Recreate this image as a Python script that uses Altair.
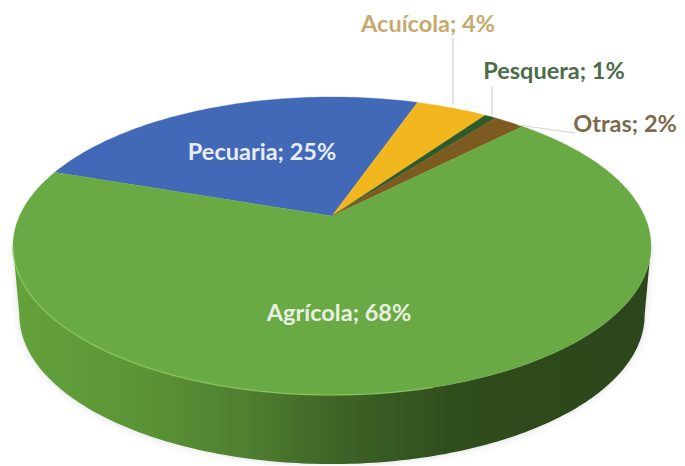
import math
import altair as alt

# Data
categories = ["Agrícola", "Pecuaria", "Acuícola", "Pesquera", "Otras"]
shares = [68, 25, 4.4, 0.7, 1.9]
colors = ["#6aaa45", "#4269b7", "#f2b61e", "#2f5a2a", "#7c5a20"]
labels = ["Agrícola; 68%", "Pecuaria; 25%", "Acuícola; 4%", "Pesquera; 1%", "Otras; 2%"]
label_colors = ["#e9f0e2", "#e8edf6", "#c8a96c", "#4c6c4a", "#7d6a4e"]
label_x = [339, 262, 428, 554, 625]
label_y = [314, 153, 25, 72, 125]
leader_x0 = [453, 492, 575]
leader_y0 = [38, 87, 133]
leader_x1 = [453, 492, 518]
leader_y1 = [105, 116, 125]

# Perspective pie geometry (image pixels)
AX, AY = 332.0, 216.0
RX, RY, K = 312.5, 143.0, 0.2013
START = 161.0
DEPTH = 69.0


def rim(theta_deg, shrink=1.0, dy=0.0):
    t = math.radians(theta_deg)
    u, v = math.cos(t), math.sin(t)
    w = 1 + K * v
    return [AX + shrink * RX * u / w, AY - RY * v / w + dy]


def sector(a0, a1):
    n = max(2, int(abs(a1 - a0)))
    pts = [rim(a0 + (a1 - a0) * i / n) for i in range(n + 1)]
    return [[AX, AY]] + pts + [[AX, AY]]


def feature(coords, kind="Polygon", **props):
    geom = {"type": kind, "coordinates": [coords] if kind == "Polygon" else coords}
    return {"type": "Feature", "geometry": geom, "properties": props}


slices = []
a = START
for cat, s in zip(categories[1:], shares[1:]):
    b = a - s * 3.6
    slices.append(feature(sector(a, b), cat=cat))
    a = b
slices.append(feature(sector(a, START - 360), cat=categories[0]))

# Outer wall
left = 180 + math.degrees(math.asin(K))
right = 360 - math.degrees(math.asin(K))
angs = [left + (right - left) * i / 180 for i in range(181)]
wall_pts = [rim(t) for t in angs] + [rim(t, 0.98, DEPTH) for t in reversed(angs)]
wall_pts.append(wall_pts[0])
wall = [feature(wall_pts, cat="wall")]
edge_angs = [left + (285 - left) * i / 90 for i in range(91)]
edge = [feature([rim(t) for t in edge_angs], kind="LineString", cat="edge")]

leaders = [
    feature([[x0, y0], [x1, y1]], kind="LineString", cat="leader")
    for x0, y0, x1, y1 in zip(leader_x0, leader_y0, leader_x1, leader_y1)
]

proj = alt.Projection(type="identity", scale=1, translate=[-8, -8]).to_dict()


def geo(features):
    return alt.Chart(alt.InlineData(values=features))


shadow_layers = [
    geo(wall).mark_geoshape(fillOpacity=0, stroke="#8a8a8a", strokeOpacity=o, strokeWidth=w).project(**proj)
    for w, o in [(14, 0.025), (9, 0.03), (4, 0.06)]
]

wall_grad = alt.Gradient(
    gradient="linear", x1=0, x2=1, y1=0, y2=0,
    stops=[
        alt.GradientStop(offset=0.0, color="#64a23b"),
        alt.GradientStop(offset=0.2, color="#5b9436"),
        alt.GradientStop(offset=0.36, color="#507f30"),
        alt.GradientStop(offset=0.52, color="#3d6226"),
        alt.GradientStop(offset=0.7, color="#2f4c1c"),
        alt.GradientStop(offset=1.0, color="#2c461b"),
    ],
)
wall_layer = geo(wall).mark_geoshape(fill=wall_grad, stroke=None).project(**proj)

edge_layer = geo(edge).mark_geoshape(
    filled=False, stroke="#93cf63", strokeWidth=1.5, strokeOpacity=0.6
).project(**proj)

slice_layer = geo(slices).mark_geoshape(strokeWidth=0.3).encode(
    fill=alt.Fill("properties.cat:N", scale=alt.Scale(domain=categories, range=colors), legend=None),
    stroke=alt.Stroke("properties.cat:N", scale=alt.Scale(domain=categories, range=colors), legend=None),
).project(**proj)

leader_layer = geo(leaders).mark_geoshape(
    filled=False, stroke="#d2d2d2", strokeWidth=1.2
).project(**proj)

text_rows = [
    {"label": l, "lx": x, "ly": y, "cat": c}
    for l, x, y, c in zip(labels, label_x, label_y, categories)
]
text_layer = alt.Chart(alt.InlineData(values=text_rows)).mark_text(
    font="Lato", fontSize=23.5, fontWeight="bold", align="center", baseline="middle"
).encode(
    longitude="lx:Q",
    latitude="ly:Q",
    text="label:N",
    color=alt.Color("cat:N", scale=alt.Scale(domain=categories, range=label_colors), legend=None),
).project(**proj)

chart = alt.layer(
    *shadow_layers, wall_layer, slice_layer, edge_layer, leader_layer, text_layer
).properties(
    width=669, height=457, padding=0, autosize=alt.AutoSizeParams(type="none")
).resolve_scale(color="independent", fill="independent", stroke="independent").configure_view(stroke=None)

chart.save("out.html", embed_options={"renderer": "svg", "actions": False})
